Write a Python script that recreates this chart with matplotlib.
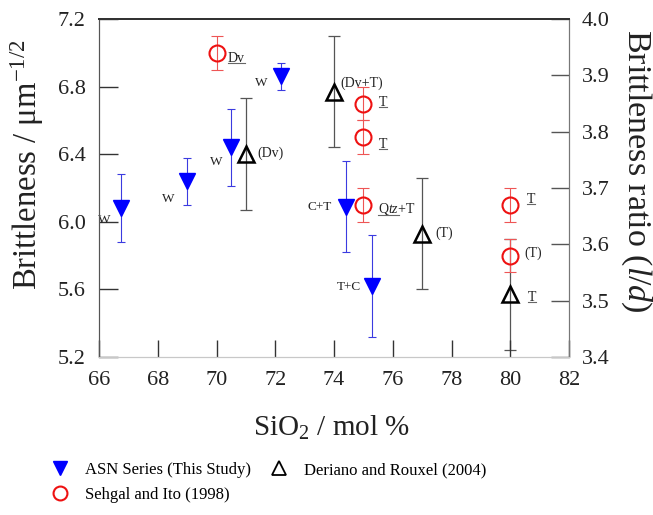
import matplotlib
matplotlib.use("Agg")
import matplotlib.pyplot as plt
from matplotlib.lines import Line2D

plt.rcParams['font.family'] = ['Liberation Serif', 'DejaVu Serif']
plt.rcParams['mathtext.fontset'] = 'custom'
plt.rcParams['mathtext.rm'] = 'Liberation Serif'
plt.rcParams['mathtext.it'] = 'Liberation Serif:italic'

# ---------------------------------------------------------------
#                              Data
# ---------------------------------------------------------------
# ASN series (this study)
asn_sio2 = [66.75, 69.0, 70.5, 72.2, 74.4, 75.3]
asn_brit = [6.08, 6.24, 6.44, 6.86, 6.09, 5.62]
asn_err = [0.20, 0.14, 0.23, 0.08, 0.27, 0.30]
asn_labels = ["W", "W", "W", "W", "C+T", "T+C"]

# Sehgal and Ito (1998)
sehgal_sio2 = [70.0, 75.0, 75.0, 75.0, 80.0, 80.0]
sehgal_brit = [7.00, 6.70, 6.50, 6.10, 6.10, 5.80]
sehgal_err = [0.10, 0.10, 0.10, 0.10, 0.10, 0.10]
sehgal_labels = ["Dv", "T", "T", r"$\mathrm{Q}\mathit{tz}$+T", "T", "(T)"]

# Deriano and Rouxel (2004)
deriano_sio2 = [71.0, 74.0, 77.0, 80.0]
deriano_brit = [6.40, 6.77, 5.93, 5.57]
deriano_err = [0.33, 0.33, 0.33, 0.33]
deriano_labels = ["(Dv)", "(Dv+T)", "(T)", "T"]

# label offsets (points) and underline flags
asn_off = [(-12, -8.6), (-13.5, -13), (-10.8, -10.8), (-14.2, -5), (-10, 0), (-8, -0.5)]
sehgal_off = [(8, -3.8), (11, 1), (11, -5), (10.8, -2.9), (12, 4), (10, 1.5)]
sehgal_under = [1.0, 1.0, 1.0, 0.54, 1.0, 0]
deriano_off = [(8, 0.5), (4.8, 6), (9.6, 0), (12.7, -2)]
deriano_under = [0, 0, 0, 1.0]

fig = plt.figure(figsize=(6.53, 5.15), dpi=100)
ax = fig.add_axes([0.1516, 0.3068, 0.7198, 0.6563])

ax.errorbar(asn_sio2, asn_brit, yerr=asn_err, fmt="none", ecolor="#3b3be0",
            elinewidth=0.8, capsize=3, capthick=0.8, zorder=2)
ax.plot(asn_sio2, asn_brit, "v", color="#0000ff", markersize=11, zorder=4)

ax.errorbar(sehgal_sio2, sehgal_brit, yerr=sehgal_err, fmt="none", ecolor="#ee5555",
            elinewidth=0.8, capsize=4.3, capthick=0.8, zorder=2)
ax.plot(sehgal_sio2, sehgal_brit, "o", mfc="none", mec="#ee1111", mew=1.5,
        markersize=11.5, zorder=4)

ax.errorbar(deriano_sio2, deriano_brit, yerr=deriano_err, fmt="none", ecolor="#555555",
            elinewidth=0.9, capsize=4, capthick=0.9, zorder=1)
ax.plot(deriano_sio2, deriano_brit, "^", mfc="none", mec="black", mew=1.8,
        markersize=12, zorder=4)

# point labels
under_texts = []
for x, y, s, (dx, dy) in zip(asn_sio2, asn_brit, asn_labels, asn_off):
    ha = "right" if "+" in s else "center"
    ax.annotate(s, (x, y), xytext=(dx, dy), textcoords="offset points",
                ha=ha, va="center", fontsize=9.5, color="#222222")
for x, y, s, (dx, dy), u in zip(sehgal_sio2, sehgal_brit, sehgal_labels, sehgal_off, sehgal_under):
    t = ax.annotate(s, (x, y), xytext=(dx, dy), textcoords="offset points",
                    ha="left", va="center", fontsize=10, color="#222222")
    if u:
        under_texts.append((t, u))
for x, y, s, (dx, dy), u in zip(deriano_sio2, deriano_brit, deriano_labels, deriano_off, deriano_under):
    t = ax.annotate(s, (x, y), xytext=(dx, dy), textcoords="offset points",
                    ha="left", va="center", fontsize=10, color="#222222")
    if u:
        under_texts.append((t, u))

ax.set_xlim(66, 82)
ax.set_ylim(5.2, 7.2)
ax.set_xticks([66, 68, 70, 72, 74, 76, 78, 80, 82])
ax.set_yticks([5.2, 5.6, 6.0, 6.4, 6.8, 7.2])
ax.set_yticklabels(["5.2", "5.6", "6.0", "6.4", "6.8", "7.2"])
ax.tick_params(axis="y", direction="in", length=14, width=1, color="#333333",
               labelsize=16, pad=9.5, labelcolor="#222222")
ax.tick_params(axis="x", direction="in", length=12, width=1, color="#333333",
               labelsize=16, pad=10, labelcolor="#222222")

ax2 = ax.twinx()
ax2.set_ylim(3.4, 4.0)
ax2.set_yticks([3.4, 3.5, 3.6, 3.7, 3.8, 3.9, 4.0])
ax2.set_yticklabels(["3.4", "3.5", "3.6", "3.7", "3.8", "3.9", "4.0"])
ax2.tick_params(axis="y", direction="in", length=13, width=1, color="#555555",
                labelsize=16, pad=9, labelcolor="#222222")

for a in (ax, ax2):
    a.spines["left"].set_color("#555555")
    a.spines["top"].set_color("#333333")
    a.spines["top"].set_linewidth(1.4)
    a.spines["right"].set_color("#777777")
    a.spines["bottom"].set_color("#c8c8c8")

fig.text(27 / 653, 1 - 165 / 515, r"Brittleness / $\mathrm{\mu m}^{\mathrm{-1/2}}$",
         rotation=90, ha="center", va="center", fontsize=23.5, color="#222222")
fig.text(636 / 653, 1 - 171 / 515, r"Brittleness ratio ($l/d$)",
         rotation=-90, ha="center", va="center", fontsize=24.5, color="#222222")
fig.text(331 / 653, 1 - 428 / 515, r"SiO$_2$ / mol %",
         ha="center", va="center", fontsize=21, color="#222222")

handles = [
    Line2D([], [], ls="none", marker="v", color="#0000ff", markersize=10),
    Line2D([], [], ls="none", marker="o", mfc="none", mec="#ee1111", mew=1.5, markersize=10),
    Line2D([], [], ls="none", marker="^", mfc="none", mec="black", mew=1.3, markersize=10),
]
labels = ["ASN Series (This Study)", "Sehgal and Ito (1998)", "Deriano and Rouxel (2004)"]
fig.legend(handles, labels, ncol=2, loc="upper left", bbox_to_anchor=(51.7 / 653, 1 - 462 / 515),
           frameon=False, fontsize=12, handlelength=1.0, handletextpad=1.0,
           columnspacing=1.17, labelspacing=0.55, borderaxespad=0, borderpad=0)

# underline some labels
fig.canvas.draw()
r = fig.canvas.get_renderer()
inv = fig.transFigure.inverted()
for t, frac in under_texts:
    bb = t.get_window_extent(r)
    (x0, y0), (x1, _) = inv.transform([[bb.x0, bb.y0 + 1.5], [bb.x0 + frac * bb.width, bb.y0]])
    fig.add_artist(Line2D([x0, x1], [y0, y0], color="#666666", lw=0.8,
                          transform=fig.transFigure))

fig.savefig("out.png", dpi=100)
